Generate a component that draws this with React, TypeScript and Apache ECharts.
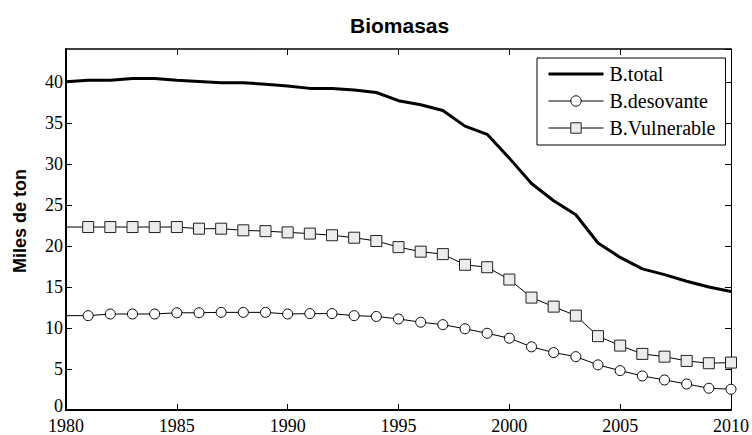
import React, { useEffect, useRef } from 'react';
import * as echarts from 'echarts';

const years = [1980, 1981, 1982, 1983, 1984, 1985, 1986, 1987, 1988, 1989, 1990, 1991, 1992, 1993, 1994, 1995, 1996, 1997, 1998, 1999, 2000, 2001, 2002, 2003, 2004, 2005, 2006, 2007, 2008, 2009, 2010];
const bTotal = [40.0, 40.2, 40.2, 40.4, 40.4, 40.2, 40.05, 39.9, 39.9, 39.7, 39.5, 39.2, 39.2, 39.0, 38.7, 37.7, 37.2, 36.5, 34.6, 33.6, 30.7, 27.6, 25.5, 23.8, 20.35, 18.6, 17.2, 16.5, 15.7, 15.0, 14.45];
const bDesovante = [11.5, 11.5, 11.7, 11.7, 11.7, 11.85, 11.85, 11.9, 11.9, 11.9, 11.7, 11.75, 11.75, 11.5, 11.4, 11.1, 10.7, 10.4, 9.9, 9.35, 8.75, 7.7, 7.0, 6.5, 5.5, 4.8, 4.15, 3.66, 3.17, 2.65, 2.53];
const bVulnerable = [22.3, 22.3, 22.3, 22.3, 22.3, 22.3, 22.1, 22.1, 21.9, 21.8, 21.65, 21.5, 21.3, 21.0, 20.6, 19.85, 19.3, 19.0, 17.7, 17.4, 15.9, 13.7, 12.6, 11.5, 9.0, 7.85, 6.84, 6.5, 5.98, 5.7, 5.78];
const seriesNames = ['B.total', 'B.desovante', 'B.Vulnerable'];
const titleText = 'Biomasas';
const yTitle = 'Miles de ton';

const SERIF = '"Liberation Serif", "Times New Roman", serif';
const SANS = '"Liberation Sans", Arial, sans-serif';

function toData(vals: number[], hideFirst: boolean) {
  return vals.map((v, i) => (i === 0 && hideFirst ? { value: [years[i], v], symbol: 'none' } : { value: [years[i], v] }));
}

export default function App() {
  const ref = useRef<HTMLDivElement>(null);
  useEffect(() => {
    if (!ref.current) return;
    const chart = echarts.init(ref.current, undefined, { renderer: 'svg' });
    const tickCommon = { inside: true, length: 6, lineStyle: { color: '#000', width: 1 } };
    chart.setOption({
      animation: false,
      backgroundColor: '#fff',
      title: {
        text: titleText,
        left: 350,
        top: 13,
        padding: 0,
        textStyle: { fontFamily: SANS, fontWeight: 'bold', fontSize: 21, color: '#000', lineHeight: 24 },
      },
      graphic: [
        {
          type: 'text',
          x: 20,
          y: 221,
          rotation: Math.PI / 2,
          style: {
            text: yTitle,
            fontFamily: SANS,
            fontWeight: 'bold',
            fontSize: 18,
            fill: '#000',
            align: 'center',
            verticalAlign: 'middle',
          },
        },
      ],
      grid: { left: 66, right: 19, top: 49, bottom: 25, containLabel: false },
      legend: {
        orient: 'vertical',
        left: 537,
        top: 58,
        padding: [6, 10, 7, 11],
        itemGap: 7,
        itemWidth: 55,
        itemHeight: 13,
        backgroundColor: '#fff',
        borderColor: '#000',
        borderWidth: 1,
        borderRadius: 0,
        z: 10,
        itemStyle: { borderWidth: 1 },
        lineStyle: { width: 1 },
        textStyle: { fontFamily: SERIF, fontSize: 20, color: '#000', padding: [0, 0, 0, 1] },
        data: [
          { name: seriesNames[0], icon: 'path://M0,0H55V3H0Z', itemStyle: { color: '#000', borderWidth: 0 } },
          { name: seriesNames[1] },
          { name: seriesNames[2] },
        ],
      },
      xAxis: [
        {
          type: 'value',
          min: 1980,
          max: 2010,
          interval: 5,
          position: 'bottom',
          axisLine: { show: true, onZero: false, lineStyle: { color: '#000', width: 2 } },
          axisTick: tickCommon,
          axisLabel: { color: '#000', fontFamily: SERIF, fontSize: 18, lineHeight: 14, margin: 9, formatter: (v: number) => String(v) },
          splitLine: { show: false },
        },
        {
          type: 'value',
          min: 1980,
          max: 2010,
          interval: 5,
          position: 'top',
          axisLine: { show: true, onZero: false, lineStyle: { color: '#000', width: 1.5 } },
          axisTick: tickCommon,
          axisLabel: { show: false },
          splitLine: { show: false },
        },
      ],
      yAxis: [
        {
          type: 'value',
          min: 0,
          max: 44,
          interval: 5,
          position: 'left',
          axisLine: { show: true, onZero: false, lineStyle: { color: '#000', width: 2 } },
          axisTick: tickCommon,
          axisLabel: {
            color: '#000',
            fontFamily: SERIF,
            fontSize: 18,
            lineHeight: 12,
            margin: 3,
            showMaxLabel: false,
            formatter: (v: number) => (v === 0 ? '{z|0}' : v % 5 === 0 ? String(v) : ''),
            rich: {
              z: { fontFamily: SERIF, fontSize: 18, lineHeight: 12, color: '#000', padding: [0, 0, 8, 0] },
            },
          },
          splitLine: { show: false },
        },
        {
          type: 'value',
          min: 0,
          max: 44,
          interval: 5,
          position: 'right',
          axisLine: { show: true, onZero: false, lineStyle: { color: '#000', width: 1 } },
          axisTick: tickCommon,
          axisLabel: { show: false },
          splitLine: { show: false },
        },
      ],
      series: [
        {
          name: seriesNames[0],
          type: 'line',
          symbol: 'none',
          data: toData(bTotal, false),
          lineStyle: { color: '#000', width: 3 },
          itemStyle: { color: '#000' },
          z: 3,
        },
        {
          name: seriesNames[1],
          type: 'line',
          symbol: 'circle',
          symbolSize: 10,
          showAllSymbol: true,
          data: toData(bDesovante, true),
          lineStyle: { color: '#000', width: 1 },
          itemStyle: { color: '#fff', borderColor: '#000', borderWidth: 1 },
          z: 2,
        },
        {
          name: seriesNames[2],
          type: 'line',
          symbol: 'rect',
          symbolSize: 11,
          showAllSymbol: true,
          data: toData(bVulnerable, true),
          lineStyle: { color: '#000', width: 1 },
          itemStyle: { color: '#ececec', borderColor: '#222', borderWidth: 1 },
          z: 2,
        },
      ],
    });
    return () => chart.dispose();
  }, []);
  return <div ref={ref} style={{ position: 'absolute', left: 0, top: 0, width: 752, height: 435 }} />;
}
